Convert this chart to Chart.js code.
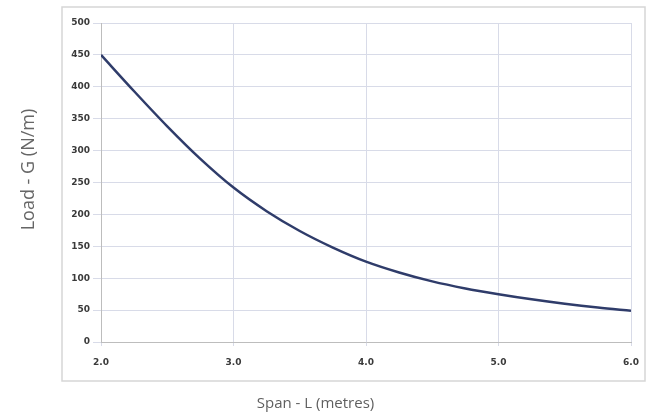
<!DOCTYPE html>
<html>
<head>
<meta charset="utf-8">
<script src="https://cdn.jsdelivr.net/npm/chart.js@4"></script>
<style>
  html, body { margin: 0; padding: 0; background: #fff; }
  #wrap { width: 651px; height: 418px; }
</style>
</head>
<body>
<div id="wrap"><canvas id="myChart" width="651" height="418"></canvas></div>
<script>
'use strict';
// span L (m) and load G (N/m)
let spans = [2.0, 2.25, 2.5, 2.75, 3.0, 3.25, 3.5, 3.75, 4.0, 4.25, 4.5, 4.75, 5.0, 5.25, 5.5, 5.75, 6.0];
let loads = [450, 393, 338, 287, 242, 205, 174, 148, 126, 109, 95, 84, 75, 67, 60, 54, 49];
let xTicks = [2, 3, 4, 5, 6];
let yMax = 500;
let yStep = 50;
let xTitle = 'Span - L (metres)';
let yTitle = 'Load - G (N/m)';

let points = [];
for (let i = 0; i < spans.length; i++) {
    points.push({x: spans[i], y: loads[i]});
}

// grey frame round plot + tick labels, and the y title outside it
let framePlugin = {
    id: 'frame',
    beforeDraw(chart) {
        let a = chart.chartArea;
        let ctx = chart.ctx;
        ctx.save();
        ctx.strokeStyle = '#d6d6d6';
        ctx.lineWidth = 1.5;
        ctx.strokeRect(a.left - 39, a.top - 16, (a.right + 14) - (a.left - 39), (a.bottom + 39) - (a.top - 16));
        ctx.restore();
    },
    afterDraw(chart) {
        let a = chart.chartArea;
        let ctx = chart.ctx;
        ctx.save();
        ctx.translate(a.left - 72, (a.top + a.bottom) / 2 - 13);
        ctx.rotate(-Math.PI / 2);
        ctx.textAlign = 'center';
        ctx.textBaseline = 'middle';
        ctx.font = '18px "Open Sans"';
        ctx.fillStyle = '#666666';
        ctx.fillText(yTitle, 0, 0);
        ctx.restore();
    }
};

let tickFont = {family: 'DejaVu Sans', size: 9, weight: 'bold'};
let gridColor = '#d8dbe8';

let ctx = document.getElementById('myChart').getContext('2d');
let myChart = new Chart(ctx, {
    type: 'line',
    data: {
        datasets: [{
            data: points,
            borderColor: '#2f3c6a',
            borderWidth: 2.5,
            pointRadius: 0,
            fill: false,
            cubicInterpolationMode: 'monotone'
        }]
    },
    options: {
        responsive: false,
        animation: false,
        layout: {padding: {top: 23, right: 20, left: 0, bottom: 0}},
        plugins: {
            legend: {display: false},
            tooltip: {enabled: false},
            title: {
                display: true,
                position: 'bottom',
                text: xTitle,
                color: '#5f5f5f',
                font: {family: 'Open Sans', size: 15, weight: 'normal'},
                padding: {top: 8, bottom: 5}
            }
        },
        scales: {
            x: {
                type: 'linear',
                min: xTicks[0],
                max: xTicks[xTicks.length - 1],
                afterBuildTicks(scale) {
                    scale.ticks = xTicks.map(v => ({value: v}));
                },
                afterFit(scale) { scale.height = 45; },
                ticks: {
                    font: tickFont,
                    color: '#3a3a3a',
                    padding: 11,
                    maxRotation: 0,
                    callback: v => Number(v).toFixed(1)
                },
                grid: {color: gridColor, tickLength: 4},
                border: {color: '#bdbdbd'}
            },
            y: {
                min: 0,
                max: yMax,
                afterFit(scale) { scale.width = 101; },
                ticks: {
                    stepSize: yStep,
                    font: tickFont,
                    color: '#3a3a3a',
                    padding: 3
                },
                grid: {color: gridColor, tickLength: 8},
                border: {color: '#bdbdbd'}
            }
        }
    },
    plugins: [framePlugin]
});
</script>
</body>
</html>
